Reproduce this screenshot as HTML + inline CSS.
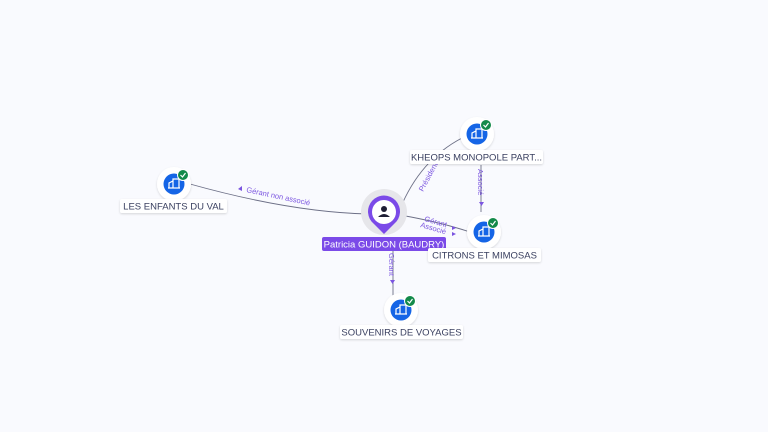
<!DOCTYPE html>
<html><head><meta charset="utf-8"><style>
html,body{margin:0;padding:0;background:#f9fafe;}
svg{display:block;font-family:"Liberation Sans",sans-serif;}
</style></head><body>
<svg width="768" height="432" viewBox="0 0 768 432">
<rect width="768" height="432" fill="#f9fafe"/>
<defs>
<filter id="sh" x="-20%" y="-40%" width="140%" height="180%"><feDropShadow dx="0" dy="1" stdDeviation="1" flood-color="#000" flood-opacity="0.15"/></filter>
<g id="bld">
<circle r="17" fill="#fff" filter="url(#sh)"/>
<circle r="10.5" fill="#1565e6"/>
<path d="M-5 4 V-1 L-1 -3 V4 M-1 4 V-5 H5 V4 Z M-6 4 H6" fill="none" stroke="#fff" stroke-width="1.2"/>
<circle cx="9" cy="-9" r="5.5" fill="#138a4a" stroke="#fff" stroke-width="1"/>
<path d="M6.5 -9 L8.5 -7 L11.5 -11" fill="none" stroke="#fff" stroke-width="1.2"/>
</g>
</defs>
<g fill="none" stroke="#6c6f86" stroke-width="0.9">
<path d="M368 214 Q290 212 190 184"/>
<path d="M400 209 Q420 160 462 138"/>
<path d="M400 215 Q440 222 470 232"/>
<path d="M481 165 V212"/>
<path d="M393 251 V296"/>
</g>
<g fill="#7b55e0" font-size="7.5">
<text transform="translate(246,192) rotate(12)">Gérant non associé</text>
<text transform="translate(423,192) rotate(-62)">Président</text>
<text transform="translate(424,221) rotate(16)">Gérant</text>
<text transform="translate(420,227) rotate(16)">Associé</text>
<text transform="translate(478,169) rotate(90)">Associé</text>
<text transform="translate(389,253) rotate(90)">Gérant</text>
<path d="M238 189 l4 -3 v5z M479 202 h5 l-2.5 4z M452 226 l4 2 -4 2z M452 232 l4 2 -4 2z M390 280 h5 l-2.5 4z"/>
</g>
<circle cx="384" cy="212" r="23" fill="#e6e6ea"/>
<path d="M384 234 L374 224 A16 16 0 1 1 394 224 Z" fill="#7b4ae8"/>
<circle cx="384" cy="212" r="12" fill="#fff"/>
<circle cx="384" cy="209" r="3" fill="#1d1d33"/>
<path d="M378 217 Q384 211 390 217 Z" fill="#1d1d33"/>
<rect x="322" y="237" width="124" height="14" rx="2" fill="#7b4ae8"/>
<text x="384" y="247.5" text-anchor="middle" font-size="9.5" fill="#fff">Patricia GUIDON (BAUDRY)</text>
<use href="#bld" x="174" y="184"/>
<use href="#bld" x="477" y="134"/>
<use href="#bld" x="484" y="232"/>
<use href="#bld" x="401" y="310"/>
<g font-size="9.5" fill="#3a4060" text-anchor="middle">
<rect x="120" y="199" width="107" height="14" rx="2" fill="#fff" filter="url(#sh)"/>
<text x="173.5" y="209.5">LES ENFANTS DU VAL</text>
<rect x="410" y="150" width="133" height="14" rx="2" fill="#fff" filter="url(#sh)"/>
<text x="476.5" y="160.5">KHEOPS MONOPOLE PART...</text>
<rect x="428" y="248" width="113" height="14" rx="2" fill="#fff" filter="url(#sh)"/>
<text x="484.5" y="258.5">CITRONS ET MIMOSAS</text>
<rect x="340" y="325" width="123" height="14" rx="2" fill="#fff" filter="url(#sh)"/>
<text x="401.5" y="335.5">SOUVENIRS DE VOYAGES</text>
</g>
</svg>
</body></html>
